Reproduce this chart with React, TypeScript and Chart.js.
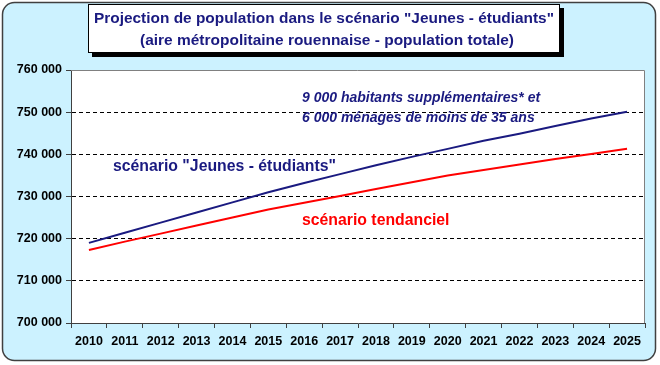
import React, { useEffect, useRef } from "react";
import { Chart, registerables } from "chart.js";

Chart.register(...registerables);

const years = ["2010", "2011", "2012", "2013", "2014", "2015", "2016", "2017", "2018", "2019", "2020", "2021", "2022", "2023", "2024", "2025"];
const jeunesEtudiants = [719000, 721400, 723800, 726200, 728600, 731000, 733200, 735300, 737400, 739400, 741300, 743200, 744900, 746700, 748500, 750100];
const tendanciel = [717300, 719300, 721200, 723100, 725000, 726900, 728500, 730100, 731800, 733400, 735000, 736300, 737600, 738900, 740100, 741300];
const yMin = 700000;
const yMax = 760000;
const yStep = 10000;
const titleLines = ["Projection de population dans le scénario \"Jeunes - étudiants\"", "(aire métropolitaine rouennaise - population totale)"];
const noteLines = ["9 000 habitants supplémentaires* et", "6 000 ménages de moins de 35 ans"];
const labelJeunes = "scénario \"Jeunes - étudiants\"";
const labelTendanciel = "scénario tendanciel";

const NAVY = "#1a1a80";
const RED = "#ff0000";
const FONT = "'Liberation Sans', Arial, sans-serif";

function fmt(v: number): string {
  return String(v).replace(/\B(?=(\d{3})+(?!\d))/g, " ");
}

function fitText(ctx: CanvasRenderingContext2D, text: string, cx: number, cy: number, w: number) {
  const m = ctx.measureText(text).width;
  const s = m > 0 ? w / m : 1;
  ctx.save();
  ctx.translate(cx, cy);
  ctx.scale(s, 1);
  ctx.textAlign = "center";
  ctx.textBaseline = "middle";
  ctx.fillText(text, 0, 0);
  ctx.restore();
}

const decor = {
  id: "decor",
  beforeDraw(chart: any) {
    const { ctx, width, height, chartArea: a } = chart;
    ctx.save();
    ctx.fillStyle = "#ffffff";
    ctx.fillRect(0, 0, width, height);
    ctx.beginPath();
    ctx.roundRect(2.5, 2.5, 653, 358, 12);
    ctx.fillStyle = "#ccf2ff";
    ctx.fill();
    ctx.lineWidth = 1.5;
    ctx.strokeStyle = "#404040";
    ctx.stroke();
    ctx.fillStyle = "#ffffff";
    ctx.fillRect(a.left, a.top, a.right - a.left, a.bottom - a.top);
    ctx.restore();
  },
  afterDraw(chart: any) {
    const { ctx, chartArea: a } = chart;
    ctx.save();
    // top/right frame
    ctx.strokeStyle = "#808080";
    ctx.lineWidth = 1;
    ctx.beginPath();
    ctx.moveTo(a.left, a.top + 0.5);
    ctx.lineTo(a.right - 0.5, a.top + 0.5);
    ctx.lineTo(a.right - 0.5, a.bottom);
    ctx.stroke();

    // title box
    ctx.fillStyle = "#000000";
    ctx.fillRect(92, 8, 472, 49);
    ctx.fillStyle = "#ffffff";
    ctx.fillRect(88, 4, 472, 49);
    ctx.strokeStyle = "#000000";
    ctx.lineWidth = 1;
    ctx.strokeRect(88.5, 4.5, 471, 48);
    ctx.fillStyle = NAVY;
    ctx.font = `bold 15.5px ${FONT}`;
    fitText(ctx, titleLines[0], 324, 19, 460);
    fitText(ctx, titleLines[1], 327, 41, 374);

    // annotations
    ctx.textAlign = "left";
    ctx.textBaseline = "middle";
    ctx.fillStyle = NAVY;
    ctx.font = `italic bold 14px ${FONT}`;
    ctx.fillText(noteLines[0], 302, 98);
    ctx.fillText(noteLines[1], 302, 118);
    ctx.font = `bold 15.8px ${FONT}`;
    ctx.fillText(labelJeunes, 113, 167);
    ctx.fillStyle = RED;
    ctx.fillText(labelTendanciel, 302, 221);
    ctx.restore();
  },
};

export default function App() {
  const ref = useRef<HTMLCanvasElement | null>(null);

  useEffect(() => {
    document.body.style.margin = "0";
    const canvas = ref.current;
    if (!canvas) return;
    const chart = new Chart(canvas, {
      type: "line",
      data: {
        labels: years,
        datasets: [
          {
            label: labelJeunes,
            data: jeunesEtudiants,
            borderColor: NAVY,
            borderWidth: 2,
            pointRadius: 0,
            tension: 0,
            fill: false,
          },
          {
            label: labelTendanciel,
            data: tendanciel,
            borderColor: RED,
            borderWidth: 2,
            pointRadius: 0,
            tension: 0,
            fill: false,
          },
        ],
      },
      options: {
        animation: false,
        responsive: false,
        maintainAspectRatio: false,
        devicePixelRatio: 1,
        layout: { padding: { top: 70, right: 15, left: 0, bottom: 0 } },
        plugins: {
          legend: { display: false },
          tooltip: { enabled: false },
          title: { display: false },
        },
        scales: {
          x: {
            type: "category",
            offset: true,
            grid: {
              offset: true,
              drawOnChartArea: false,
              drawTicks: true,
              tickLength: 5,
              tickColor: "#404040",
            },
            border: { color: "#404040", width: 1 },
            ticks: {
              color: "#000000",
              font: { family: FONT, size: 12.5, weight: "bold" },
              padding: 6,
              maxRotation: 0,
              autoSkip: false,
            },
            afterFit(scale: any) {
              scale.height = 42;
            },
          },
          y: {
            min: yMin,
            max: yMax,
            grid: {
              color: (c: any) => (c.tick && (c.tick.value === yMin || c.tick.value === yMax) ? "rgba(0,0,0,0)" : "#000000"),
              lineWidth: 1,
              tickLength: 5,
              tickColor: "#404040",
              tickBorderDash: [],
            },
            border: { color: "#404040", width: 1, dash: [4, 3] },
            ticks: {
              stepSize: yStep,
              color: "#000000",
              font: { family: FONT, size: 12.5, weight: "bold" },
              padding: 4,
              callback: (v: any) => fmt(Number(v)),
            },
            afterFit(scale: any) {
              scale.width = 71;
            },
          },
        },
      },
      plugins: [decor],
    } as any);
    return () => chart.destroy();
  }, []);

  return (
    <div style={{ position: "absolute", left: 0, top: 0, width: 660, height: 365 }}>
      <canvas ref={ref} width={660} height={365} style={{ display: "block", width: 660, height: 365 }} />
    </div>
  );
}
